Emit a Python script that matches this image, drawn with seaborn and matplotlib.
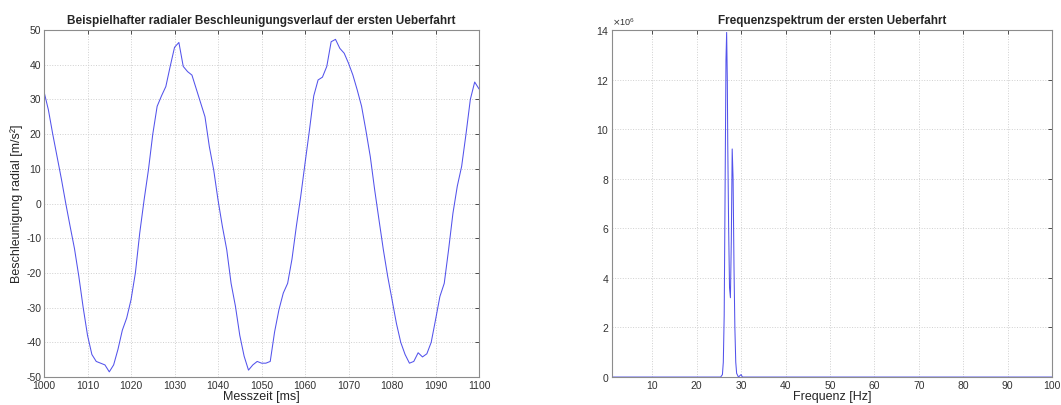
import numpy as np
import pandas as pd
import matplotlib
matplotlib.use("Agg")
import matplotlib.pyplot as plt
import matplotlib.ticker as mticker
import seaborn as sns

# ------------------------------------------
# Data
# ------------------------------------------

# radial acceleration, one sample per ms from 1000 to 1100 ms
zeit_ms = list(range(1000, 1101))
beschleunigung = [
    32.2, 27.0, 20.0, 13.5, 7.0, 0.0, -6.6, -13.0, -21.0, -30.0,
    -38.0, -43.5, -45.5, -46.0, -46.5, -48.5, -46.5, -42.0, -36.5, -33.0,
    -27.7, -20.0, -8.5, 1.0, 9.7, 20.0, 28.0, 31.0, 33.7, 39.5,
    45.0, 46.4, 39.5, 38.0, 37.0, 33.0, 29.0, 25.0, 16.4, 9.7,
    1.0, -6.6, -13.3, -23.0, -29.6, -38.0, -44.0, -48.0, -46.5, -45.5,
    -46.0, -46.0, -45.5, -37.0, -30.6, -25.8, -23.0, -16.0, -6.6, 2.0,
    11.6, 21.0, 31.0, 35.6, 36.4, 39.5, 46.6, 47.3, 44.7, 43.3,
    40.4, 37.0, 32.7, 28.0, 21.0, 13.5, 4.0, -4.7, -13.3, -21.0,
    -27.7, -34.5, -40.0, -43.5, -46.0, -45.5, -43.0, -44.2, -43.3, -40.0,
    -33.5, -26.8, -23.0, -13.3, -2.8, 5.0, 10.7, 20.0, 30.0, 35.0,
    33.0,
]

# frequency spectrum (amplitude in units of 1e6)
frequenz_hz = [1.0, 25.4, 25.8, 26.0, 26.2, 26.4, 26.6, 26.75, 26.9, 27.0,
               27.2, 27.4, 27.6, 27.8, 28.0, 28.2, 28.4, 28.6, 28.8, 29.0,
               29.4, 30.0, 30.3, 100.0]
amplitude_e6 = [0.0, 0.0, 0.1, 0.6, 2.5, 7.5, 12.8, 13.9, 12.0, 9.4,
                6.0, 3.6, 3.2, 5.5, 9.2, 8.0, 4.5, 2.0, 0.6, 0.15,
                0.0, 0.1, 0.0, 0.0]

zeit_df = pd.DataFrame({"t": zeit_ms, "a": beschleunigung})
spek_df = pd.DataFrame({"f": frequenz_hz, "A": np.array(amplitude_e6) * 1e6})

# ------------------------------------------
# Style (MATLAB-like look)
# ------------------------------------------

sns.set_style("white")
plt.rcParams["font.family"] = ["Liberation Sans", "DejaVu Sans"]
plt.rcParams["xtick.direction"] = "in"
plt.rcParams["ytick.direction"] = "in"
plt.rcParams["axes.edgecolor"] = "#8c8c8c"
plt.rcParams["axes.linewidth"] = 0.8
plt.rcParams["axes.unicode_minus"] = False

fig = plt.figure(figsize=(10.61, 4.05), dpi=100)
ax1 = fig.add_axes([0.0415, 0.069, 0.41, 0.857])
ax2 = fig.add_axes([0.577, 0.069, 0.4147, 0.857])

line_kw = dict(color="#3535e8", linewidth=0.75, alpha=0.85)

# ------------------------------------------
# Left: acceleration over time
# ------------------------------------------

sns.lineplot(data=zeit_df, x="t", y="a", ax=ax1, **line_kw)
ax1.set_xlim(1000, 1100)
ax1.set_ylim(-50, 50)
ax1.set_xticks(range(1000, 1101, 10))
ax1.set_yticks(range(-50, 51, 10))
ax1.set_title("Beispielhafter radialer Beschleunigungsverlauf der ersten Ueberfahrt",
              fontsize=8.5, fontweight="bold", pad=4)
ax1.set_xlabel("Messzeit [ms]", fontsize=9, labelpad=0)
ax1.set_ylabel("Beschleunigung radial [m/s²]", fontsize=9, labelpad=2)

# ------------------------------------------
# Right: frequency spectrum
# ------------------------------------------

sns.lineplot(data=spek_df, x="f", y="A", ax=ax2, **line_kw)
ax2.set_xlim(1, 100)
ax2.set_ylim(0, 14e6)
ax2.set_xticks(range(10, 101, 10))
ax2.set_yticks(np.arange(0, 14.1e6, 2e6))
fmt = mticker.ScalarFormatter(useMathText=True)
fmt.set_powerlimits((6, 6))
ax2.yaxis.set_major_formatter(fmt)
ax2.yaxis.get_offset_text().set_fontsize(6.5)
ax2.set_title("Frequenzspektrum der ersten Ueberfahrt",
              fontsize=8.5, fontweight="bold", pad=4)
ax2.set_xlabel("Frequenz [Hz]", fontsize=9, labelpad=0)
ax2.set_ylabel("")

for ax in (ax1, ax2):
    ax.grid(True, color="#d0d0d0", linestyle=":", linewidth=0.7)
    ax.tick_params(labelsize=7.5, colors="#333333", length=3, width=0.6,
                   top=True, right=True)
    ax.tick_params(axis="x", pad=3)
    ax.tick_params(axis="y", pad=2)
    for s in ax.spines.values():
        s.set_visible(True)

plt.savefig("out.png", dpi=100)
